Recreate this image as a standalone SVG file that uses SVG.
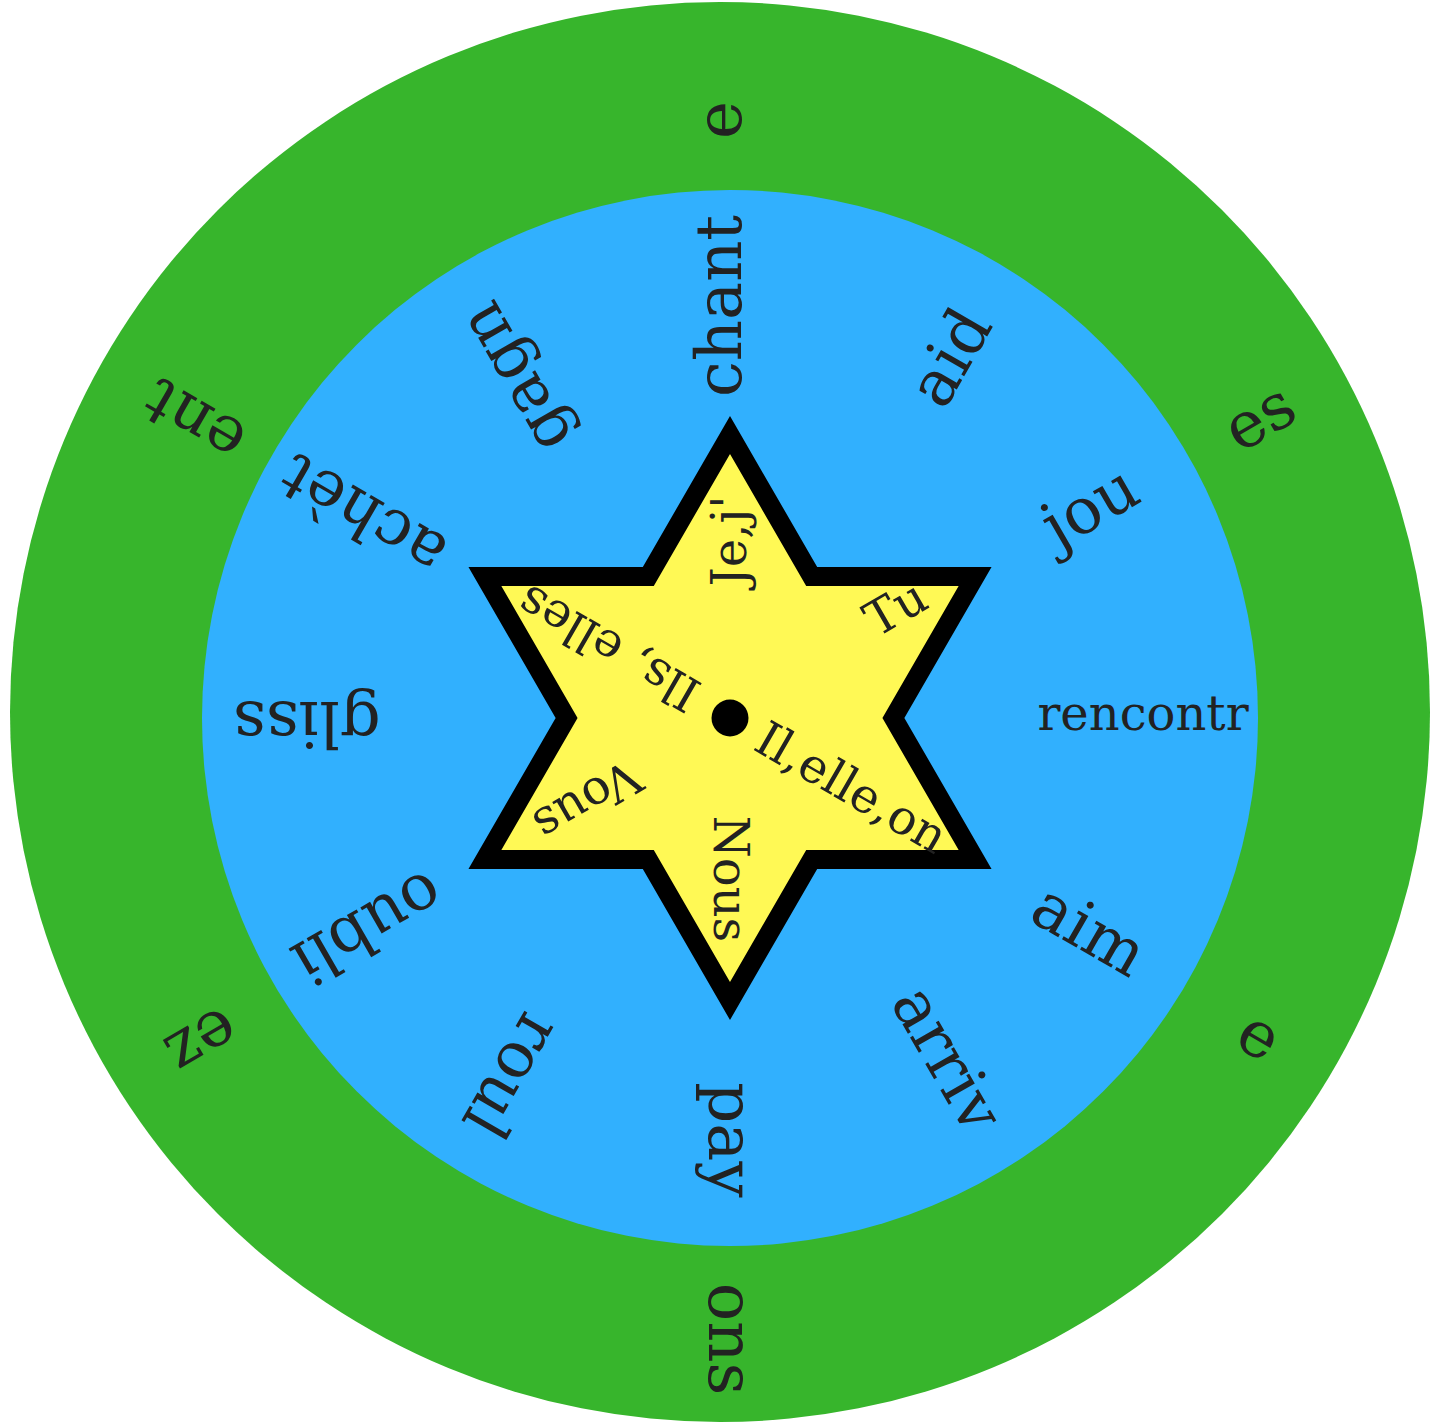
<svg xmlns="http://www.w3.org/2000/svg" width="1443" height="1423" viewBox="0 0 1443 1423">
<style>
text{font-family:"DejaVu Serif","Liberation Serif",serif;fill:#222;text-anchor:middle}
.ring{font-size:64px}
.small{font-size:48px}
.star{font-size:48px}
</style>
<rect width="1443" height="1423" fill="#ffffff"/>
<g id="outer-ring">
<circle cx="720" cy="712" r="710" fill="#37b52c"/>
<text class="ring" transform="translate(725,718) rotate(-90)" x="598" y="16">e</text>
<text class="ring" transform="translate(732,728) rotate(-30)" x="612" y="16">es</text>
<text class="ring" transform="translate(725,733) rotate(30)" x="614" y="16">e</text>
<text class="ring" transform="translate(725,718) rotate(90)" x="621" y="16">ons</text>
<text class="ring" transform="translate(735,728) rotate(150)" x="618" y="16">ez</text>
<text class="ring" transform="translate(728,723) rotate(210)" x="613" y="16">ent</text>
</g>
<g id="inner-ring">
<circle cx="730" cy="718" r="528" fill="#31b0fe"/>
<text class="ring" transform="translate(725,718) rotate(-90)" x="412" y="16">chant</text>
<text class="ring" transform="translate(745,724) rotate(-60)" x="420" y="16">aid</text>
<text class="ring" transform="translate(735,718) rotate(-30)" x="413" y="16">jou</text>
<text class="small" transform="translate(725,718)" x="418" y="12">rencontr</text>
<text class="ring" transform="translate(728,728) rotate(30)" x="414" y="16">aim</text>
<text class="ring" transform="translate(740,711) rotate(60)" x="405" y="16">arriv</text>
<text class="ring" transform="translate(725,718) rotate(90)" x="422" y="16">pay</text>
<text class="ring" transform="translate(715,713) rotate(120)" x="416" y="16">roul</text>
<text class="ring" transform="translate(729,713) rotate(150)" x="420" y="16">oubli</text>
<text class="ring" transform="translate(725,718) rotate(180)" x="418" y="16">gliss</text>
<text class="ring" transform="translate(725,718) rotate(210)" x="415" y="16">achèt</text>
<text class="ring" transform="translate(722,726) rotate(240)" x="405" y="16">gagn</text>
</g>
<g id="star">
<polygon points="730,435 811.7,576.5 975.1,576.5 893.4,718 975.1,859.5 811.7,859.5 730,1001 648.3,859.5 484.9,859.5 566.6,718 484.9,576.5 648.3,576.5" fill="#fff955" stroke="#000" stroke-width="19" stroke-linejoin="miter" stroke-miterlimit="4"/>
<circle cx="730" cy="718" r="18.5" fill="#000"/>
<text class="star" transform="translate(730,718) rotate(-90)" x="177" y="16">Je,j'</text>
<text class="star" transform="translate(727,706) rotate(-30)" x="195" y="16">Tu</text>
<text class="star" transform="translate(730,718) rotate(30)" x="140" y="16">Il,elle,on</text>
<text class="star" transform="translate(730,718) rotate(90)" x="161" y="16">Nous</text>
<text class="star" transform="translate(730,718) rotate(150)" x="165" y="16">Vous</text>
<text class="star" transform="translate(730,718) rotate(210)" x="140" y="16">Ils, elles</text>
</g>
<g id="connectors"/>
</svg>
